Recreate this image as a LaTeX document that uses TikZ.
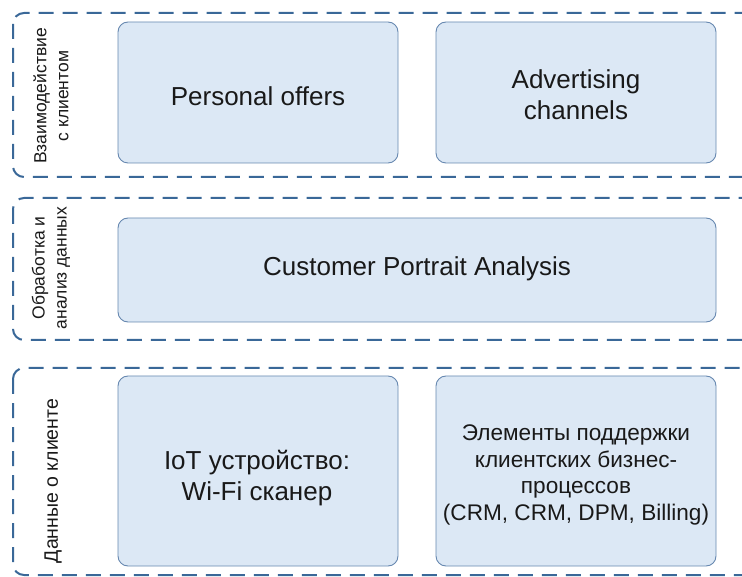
\documentclass[tikz,border=0pt]{standalone}
\usepackage{fontspec}
\setmainfont{Liberation Sans}
\begin{document}
\begin{tikzpicture}[x=1pt,y=-1pt,
  layer/.style={draw=layerblue, line width=2pt, dash pattern=on 15pt off 9pt, rounded corners=11pt},
  block/.style={draw=blockedge, line width=0.9pt, fill=blockfill, rounded corners=10pt},
  side/.style={rotate=90, font=\fontsize{17.5}{22}\selectfont, align=center, text=black!90},
  bigside/.style={rotate=90, font=\fontsize{19.5}{22}\selectfont, align=center, text=black!90},
  big/.style={font=\fontsize{26}{31}\selectfont, align=center, text=black!90},
  small/.style={font=\fontsize{22.6}{26.8}\selectfont, align=center, text=black!90}]
\definecolor{layerblue}{HTML}{3A6898}
\definecolor{blockedge}{HTML}{6788B0}
\definecolor{blockfill}{HTML}{DCE8F5}
\useasboundingbox (0,0) rectangle (742,577);
\clip (0,0) rectangle (742,577);
% layer frames (open to the right)
\draw[layer] (13,13) rectangle (770,177);
\draw[layer] (13,198) rectangle (770,340);
\draw[layer] (13,368) rectangle (770,575);
% blocks
\draw[block] (118,22) rectangle (398,163);
\node[big] (offers) at (258,96) {Personal offers};
\draw[block] (436,22) rectangle (716,163);
\node[big] (adv) at (576,95) {Advertising\\channels};
\draw[block] (118,218) rectangle (716,322);
\node[big] (cpa) at (417,269) {Customer Portrait Analysis};
\draw[block] (118,376) rectangle (398,566);
\node[big] (iot) at (257,478) {IoT устройство:\\Wi-Fi сканер};
\draw[block] (436,376) rectangle (716,566);
\node[small] (crm) at (576,475) {Элементы поддержки\\клиентских бизнес-\\процессов\\(CRM, CRM, DPM, Billing)};
% layer captions
\node[side] (l1) at (51,96) {Взаимодействие\\с клиентом};
\node[side] (l2) at (51,268) {Обработка и\\анализ данных};
\node[bigside] (l3) at (53,481) {Данные о клиенте};
\end{tikzpicture}
\end{document}
